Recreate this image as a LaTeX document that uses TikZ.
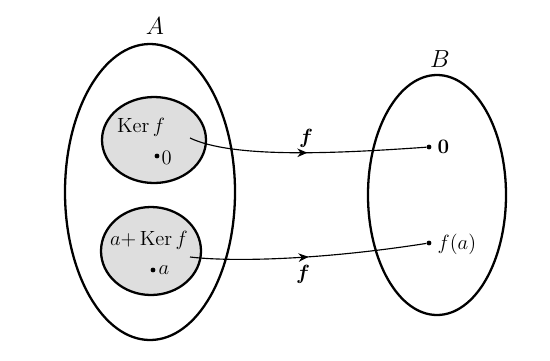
\documentclass[tikz,border=0pt]{standalone}
\usepackage{amsmath,bm}
\usetikzlibrary{arrows.meta,decorations.markings}
\begin{document}
\begin{tikzpicture}[x=0.7pt,y=-0.7pt,
  setline/.style={line width=1.6pt},
  blob/.style={setline,fill=black!13},
  pt/.style={circle,fill=black,inner sep=0pt,minimum size=3.4pt},
  maparrow/.style={line width=0.8pt,postaction={decorate},
    decoration={markings,mark=at position 0.5 with {\arrow{Stealth[length=7pt,width=6pt]}}}},
  lbl/.style={inner sep=1pt,font=\fontsize{13.5}{16}\selectfont}]
\useasboundingbox (0,0) rectangle (550,360);
% sets
\draw[setline] (150,192) ellipse [x radius=85, y radius=148];
\draw[setline] (437,195) ellipse [x radius=69, y radius=120];
\draw[blob] (154,140) ellipse [x radius=52, y radius=43];
\draw[blob] (151,251) ellipse [x radius=50, y radius=44];
% labels of sets
\node[lbl,font=\LARGE] (labA) at (155,26) {$A$};
\node[lbl,font=\LARGE] (labB) at (440,59) {$B$};
\node[lbl] (ker) at (141,127) {$\operatorname{Ker} f$};
\node[lbl] (aker) at (149,240) {$a{+}\operatorname{Ker} f$};
% points
\node[pt] (z0) at (157,156) {};
\node[lbl,anchor=west] (z0l) at (160,158) {$0$};
\node[pt] (pa) at (153,270) {};
\node[lbl,anchor=west] (pal) at (157,270) {$a$};
\node[pt] (zB) at (429,147) {};
\node[lbl,anchor=west] (zBl) at (436,147) {$\mathbf{0}$};
\node[pt] (fa) at (429,243) {};
\node[lbl,anchor=west] (fal) at (436,244) {$f(a)$};
\coordinate (s1) at (190,138);
\coordinate (s2) at (190,257);
% maps
\draw[maparrow] (s1) .. controls (232,158) and (330,154) .. (zB);
\draw[maparrow] (s2) .. controls (232,262) and (320,260) .. (fa);
\node[lbl] (f1) at (306,138) {$\bm{f}$};
\node[lbl] (f2) at (303,274) {$\bm{f}$};
\end{tikzpicture}
\end{document}
